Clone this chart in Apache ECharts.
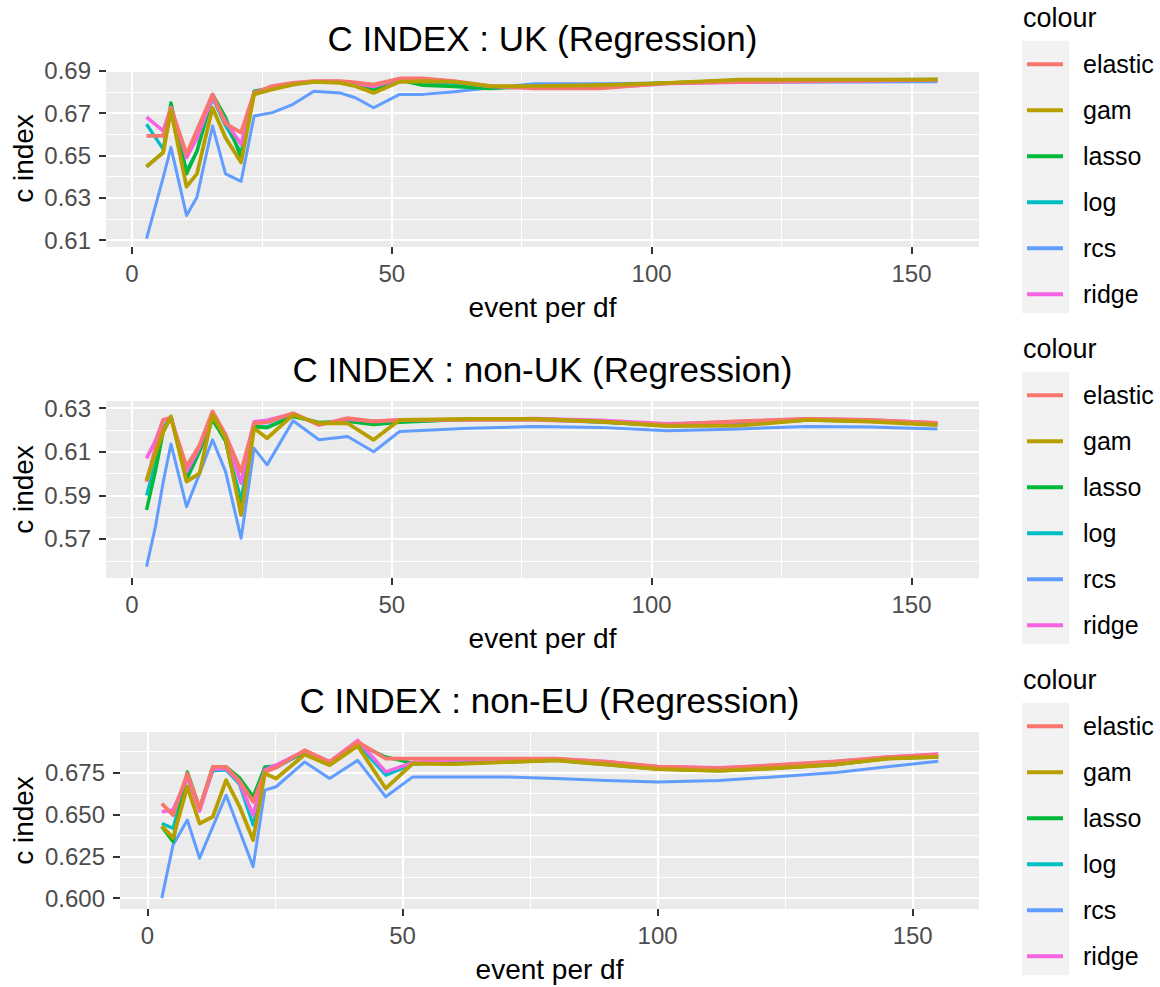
<!DOCTYPE html>
<html><head><meta charset="utf-8">
<script src="https://cdn.jsdelivr.net/npm/echarts@6/dist/echarts.min.js"></script>
<style>html,body{margin:0;padding:0;background:#fff;}#c{width:1160px;height:987px;}</style>
</head><body><div id="c"></div>
<script>
// ---------- DATA ----------
const models = ['elastic', 'gam', 'lasso', 'log', 'rcs', 'ridge'];
const xTicks = [0, 50, 100, 150];
const xMinorTicks = [25, 75, 125];

// UK
const ukX       = [2.8, 6, 7.5, 10.5, 12.5, 15.5, 18, 21, 23.5, 27, 31, 35, 40, 43, 46.5, 51.5, 56, 62, 69, 77.5, 90, 103.5, 117, 155];
const ukElastic = [0.6592, 0.6592, 0.6725, 0.6506, 0.6619, 0.6788, 0.6650, 0.6608, 0.6795, 0.6827, 0.6842, 0.6850, 0.6850, 0.6845, 0.6834, 0.6863, 0.6863, 0.6850, 0.6827, 0.6816, 0.6816, 0.6842, 0.6847, 0.6858];
const ukGam     = [0.6447, 0.6514, 0.6710, 0.6353, 0.6413, 0.6725, 0.6584, 0.6467, 0.6788, 0.6811, 0.6834, 0.6847, 0.6842, 0.6827, 0.6795, 0.6847, 0.6850, 0.6847, 0.6827, 0.6827, 0.6831, 0.6842, 0.6858, 0.6858];
const ukLasso   = [0.6447, 0.6514, 0.6748, 0.6413, 0.6520, 0.6788, 0.6680, 0.6490, 0.6803, 0.6820, 0.6838, 0.6847, 0.6845, 0.6835, 0.6810, 0.6855, 0.6831, 0.6825, 0.6816, 0.6825, 0.6830, 0.6842, 0.6855, 0.6858];
const ukLog     = [0.6647, 0.6530, 0.6725, 0.6428, 0.6520, 0.6772, 0.6640, 0.6514, 0.6795, 0.6815, 0.6836, 0.6847, 0.6845, 0.6833, 0.6810, 0.6855, 0.6840, 0.6835, 0.6822, 0.6825, 0.6830, 0.6842, 0.6850, 0.6856];
const ukRcs     = [0.6108, 0.6395, 0.6538, 0.6217, 0.6303, 0.6639, 0.6413, 0.6378, 0.6686, 0.6702, 0.6741, 0.6803, 0.6795, 0.6772, 0.6725, 0.6788, 0.6788, 0.6800, 0.6819, 0.6838, 0.6838, 0.6842, 0.6845, 0.6847];
const ukRidge   = [0.6681, 0.6616, 0.6725, 0.6490, 0.6580, 0.6775, 0.6660, 0.6553, 0.6795, 0.6820, 0.6840, 0.6848, 0.6848, 0.6840, 0.6825, 0.6860, 0.6855, 0.6848, 0.6825, 0.6820, 0.6820, 0.6840, 0.6845, 0.6856];
const ukYTicks  = [0.61, 0.63, 0.65, 0.67, 0.69];
const ukYMinor  = [0.62, 0.64, 0.66, 0.68];

// non-UK
const nonUkX       = [2.8, 4.5, 6, 7.5, 10.5, 13, 15.5, 18, 21, 23.5, 26, 31, 36, 41.5, 46.5, 51.5, 65, 77.5, 90, 103, 117, 130, 142, 155];
const nonUkElastic = [0.5963, 0.6116, 0.6246, 0.6251, 0.6032, 0.6130, 0.6285, 0.6178, 0.6009, 0.6231, 0.6235, 0.6277, 0.6223, 0.6254, 0.6239, 0.6246, 0.6246, 0.6246, 0.6238, 0.6225, 0.6240, 0.6251, 0.6246, 0.6231];
const nonUkGam     = [0.5970, 0.6090, 0.6190, 0.6262, 0.5963, 0.6001, 0.6269, 0.6162, 0.5810, 0.6208, 0.6162, 0.6269, 0.6231, 0.6231, 0.6155, 0.6246, 0.6251, 0.6251, 0.6239, 0.6218, 0.6220, 0.6246, 0.6238, 0.6223];
const nonUkLasso   = [0.5833, 0.6010, 0.6190, 0.6262, 0.5971, 0.6100, 0.6246, 0.6150, 0.5833, 0.6216, 0.6210, 0.6262, 0.6235, 0.6240, 0.6225, 0.6235, 0.6250, 0.6250, 0.6238, 0.6220, 0.6225, 0.6246, 0.6240, 0.6228];
const nonUkLog     = [0.5900, 0.6050, 0.6210, 0.6258, 0.5990, 0.6110, 0.6255, 0.6150, 0.5880, 0.6216, 0.6215, 0.6265, 0.6232, 0.6242, 0.6227, 0.6238, 0.6248, 0.6248, 0.6236, 0.6220, 0.6228, 0.6248, 0.6242, 0.6228];
const nonUkRcs     = [0.5573, 0.5755, 0.5960, 0.6136, 0.5848, 0.6000, 0.6155, 0.6010, 0.5703, 0.6116, 0.6040, 0.6242, 0.6155, 0.6170, 0.6100, 0.6193, 0.6208, 0.6216, 0.6212, 0.6196, 0.6205, 0.6216, 0.6214, 0.6205];
const nonUkRidge   = [0.6070, 0.6150, 0.6246, 0.6258, 0.6009, 0.6120, 0.6280, 0.6180, 0.5956, 0.6238, 0.6245, 0.6275, 0.6225, 0.6250, 0.6240, 0.6246, 0.6248, 0.6252, 0.6245, 0.6228, 0.6238, 0.6251, 0.6246, 0.6233];
const nonUkYTicks  = [0.57, 0.59, 0.61, 0.63];
const nonUkYMinor  = [0.56, 0.58, 0.60, 0.62];

// non-EU
const nonEuX       = [2.8, 5, 7.8, 10.2, 12.8, 15.4, 18, 20.7, 23, 25.2, 30.8, 35.7, 41.2, 46.7, 52, 60, 70, 80, 90, 100, 112, 122, 135, 145, 155];
const nonEuElastic = [0.6565, 0.6496, 0.6744, 0.6536, 0.6784, 0.6784, 0.6700, 0.6575, 0.6754, 0.6780, 0.6883, 0.6813, 0.6933, 0.6833, 0.6833, 0.6833, 0.6833, 0.6833, 0.6813, 0.6785, 0.6774, 0.6792, 0.6817, 0.6840, 0.6857];
const nonEuGam     = [0.6430, 0.6360, 0.6665, 0.6446, 0.6486, 0.6704, 0.6550, 0.6347, 0.6744, 0.6714, 0.6857, 0.6794, 0.6909, 0.6655, 0.6804, 0.6800, 0.6812, 0.6823, 0.6798, 0.6770, 0.6760, 0.6774, 0.6798, 0.6833, 0.6843];
const nonEuLasso   = [0.6427, 0.6337, 0.6754, 0.6536, 0.6784, 0.6784, 0.6720, 0.6605, 0.6784, 0.6790, 0.6870, 0.6810, 0.6920, 0.6843, 0.6805, 0.6804, 0.6812, 0.6823, 0.6798, 0.6770, 0.6760, 0.6774, 0.6798, 0.6833, 0.6843];
const nonEuLog     = [0.6446, 0.6417, 0.6735, 0.6536, 0.6760, 0.6765, 0.6680, 0.6436, 0.6760, 0.6780, 0.6870, 0.6810, 0.6920, 0.6734, 0.6800, 0.6812, 0.6815, 0.6825, 0.6800, 0.6772, 0.6762, 0.6776, 0.6800, 0.6835, 0.6845];
const nonEuRcs     = [0.6000, 0.6317, 0.6466, 0.6238, 0.6427, 0.6615, 0.6405, 0.6188, 0.6645, 0.6665, 0.6813, 0.6714, 0.6823, 0.6605, 0.6724, 0.6724, 0.6724, 0.6714, 0.6702, 0.6694, 0.6702, 0.6722, 0.6750, 0.6784, 0.6817];
const nonEuRidge   = [0.6516, 0.6526, 0.6720, 0.6520, 0.6770, 0.6775, 0.6690, 0.6496, 0.6765, 0.6795, 0.6880, 0.6815, 0.6942, 0.6754, 0.6810, 0.6825, 0.6830, 0.6830, 0.6815, 0.6785, 0.6778, 0.6792, 0.6815, 0.6842, 0.6860];
const nonEuYTicks  = [0.600, 0.625, 0.650, 0.675];
const nonEuYMinor  = [0.6125, 0.6375, 0.6625, 0.6875];

const titles = ['C INDEX : UK (Regression)', 'C INDEX : non-UK (Regression)', 'C INDEX : non-EU (Regression)'];

// ---------- LAYOUT / STYLE ----------
const FONT = '"Liberation Sans", Arial, sans-serif';
const colors = { elastic: '#F8766D', gam: '#B79F00', lasso: '#00BA38', log: '#00BFC4', rcs: '#619CFF', ridge: '#F564E3' };
const widths = { elastic: 3.8, gam: 3.8, lasso: 3.4, log: 3.2, rcs: 3.0, ridge: 3.6 };
const drawOrder = ['rcs', 'log', 'lasso', 'ridge', 'elastic', 'gam'];

const panels = [
  { x: ukX, ys: { elastic: ukElastic, gam: ukGam, lasso: ukLasso, log: ukLog, rcs: ukRcs, ridge: ukRidge },
    yMajor: ukYTicks, yMinor: ukYMinor, dec: 2, yMin: 0.6068, yMax: 0.6903, xMin: -5.0, xMax: 163.0,
    left: 106, top: 70, width: 873 },
  { x: nonUkX, ys: { elastic: nonUkElastic, gam: nonUkGam, lasso: nonUkLasso, log: nonUkLog, rcs: nonUkRcs, ridge: nonUkRidge },
    yMajor: nonUkYTicks, yMinor: nonUkYMinor, dec: 2, yMin: 0.5521, yMax: 0.6333, xMin: -5.0, xMax: 163.0,
    left: 106, top: 401, width: 873 },
  { x: nonEuX, ys: { elastic: nonEuElastic, gam: nonEuGam, lasso: nonEuLasso, log: nonEuLog, rcs: nonEuRcs, ridge: nonEuRidge },
    yMajor: nonEuYTicks, yMinor: nonEuYMinor, dec: 3, yMin: 0.5935, yMax: 0.6992, xMin: -5.4, xMax: 163.0,
    left: 120, top: 732, width: 859 }
];
const PH = 177;

const grid = [], xAxis = [], yAxis = [], series = [], legend = [], graphic = [];

panels.forEach((p, i) => {
  grid.push({ left: p.left, top: p.top, width: p.width, height: PH, show: true,
    backgroundColor: '#EBEBEB', borderWidth: 0 });
  // major x
  xAxis.push({ type: 'value', gridIndex: i, min: p.xMin, max: p.xMax, position: 'bottom',
    axisLine: { show: false, onZero: false },
    axisTick: { show: true, length: 7, lineStyle: { color: '#333333', width: 2 }, customValues: xTicks },
    axisLabel: { customValues: xTicks, fontSize: 24, color: '#4D4D4D', margin: 14, fontFamily: FONT },
    splitLine: { show: true, lineStyle: { color: '#FFFFFF', width: 2.2 } } });
  // minor x
  xAxis.push({ type: 'value', gridIndex: i, min: p.xMin, max: p.xMax, position: 'bottom',
    axisLine: { show: false, onZero: false }, axisTick: { show: false, customValues: xMinorTicks },
    axisLabel: { show: false },
    splitLine: { show: true, lineStyle: { color: '#FFFFFF', width: 1.1 } } });
  // major y
  yAxis.push({ type: 'value', gridIndex: i, min: p.yMin, max: p.yMax, position: 'left',
    axisLine: { show: false, onZero: false },
    axisTick: { show: true, length: 7, lineStyle: { color: '#333333', width: 2 }, customValues: p.yMajor },
    axisLabel: { customValues: p.yMajor, fontSize: 24, color: '#4D4D4D', margin: 15, fontFamily: FONT,
      formatter: (v) => Number(v).toFixed(p.dec) },
    splitLine: { show: true, lineStyle: { color: '#FFFFFF', width: 2.2 } } });
  // minor y
  yAxis.push({ type: 'value', gridIndex: i, min: p.yMin, max: p.yMax, position: 'left',
    axisLine: { show: false, onZero: false }, axisTick: { show: false, customValues: p.yMinor },
    axisLabel: { show: false },
    splitLine: { show: true, lineStyle: { color: '#FFFFFF', width: 1.1 } } });

  drawOrder.forEach((m) => {
    series.push({ type: 'line', name: m, xAxisIndex: 2 * i, yAxisIndex: 2 * i,
      data: p.x.map((xx, k) => [xx, p.ys[m][k]]),
      symbol: 'none', showSymbol: false, color: colors[m],
      itemStyle: { color: colors[m] },
      lineStyle: { color: colors[m], width: widths[m], cap: 'butt', join: 'round' },
      emphasis: { disabled: true }, silent: true, animation: false, clip: true });
  });

  const off = i * 331;
  legend.push({ data: models, orient: 'vertical', left: 1027, top: 41.3 + off,
    itemWidth: 36, itemHeight: 4, icon: 'rect', itemGap: 0, padding: 0, selectedMode: false,
    textStyle: { fontSize: 25, color: '#000000', lineHeight: 36, padding: [10, 0, 0, 15], fontFamily: FONT } });

  graphic.push({ type: 'rect', shape: { x: 1022, y: 40.7 + off, width: 47, height: 272.5 },
    style: { fill: '#F2F2F2' }, z: 0, silent: true });
  graphic.push({ type: 'text', x: 1023, y: 17.5 + off, z: 5, silent: true,
    style: { text: 'colour', fontSize: 27, fontFamily: FONT, fill: '#000000',
      align: 'left', verticalAlign: 'middle', textAlign: 'left', textVerticalAlign: 'middle' } });
  const cx = p.left + p.width / 2;
  graphic.push({ type: 'text', x: cx, y: 38 + off, z: 5, silent: true,
    style: { text: titles[i], fontSize: 35, fontFamily: FONT, fill: '#000000',
      align: 'center', verticalAlign: 'middle', textAlign: 'center', textVerticalAlign: 'middle' } });
  graphic.push({ type: 'text', x: cx, y: 307 + off, z: 5, silent: true,
    style: { text: 'event per df', fontSize: 28, fontFamily: FONT, fill: '#000000',
      align: 'center', verticalAlign: 'middle', textAlign: 'center', textVerticalAlign: 'middle' } });
  graphic.push({ type: 'text', x: 23, y: p.top + PH / 2, rotation: Math.PI / 2, z: 5, silent: true,
    style: { text: 'c index', fontSize: 28, fontFamily: FONT, fill: '#000000',
      align: 'center', verticalAlign: 'middle', textAlign: 'center', textVerticalAlign: 'middle' } });
});

const chart = echarts.init(document.getElementById('c'), null, { renderer: 'svg', width: 1160, height: 987 });
chart.setOption({
  animation: false,
  backgroundColor: '#FFFFFF',
  textStyle: { fontFamily: FONT },
  grid, xAxis, yAxis, series, legend, graphic
});
</script></body></html>
